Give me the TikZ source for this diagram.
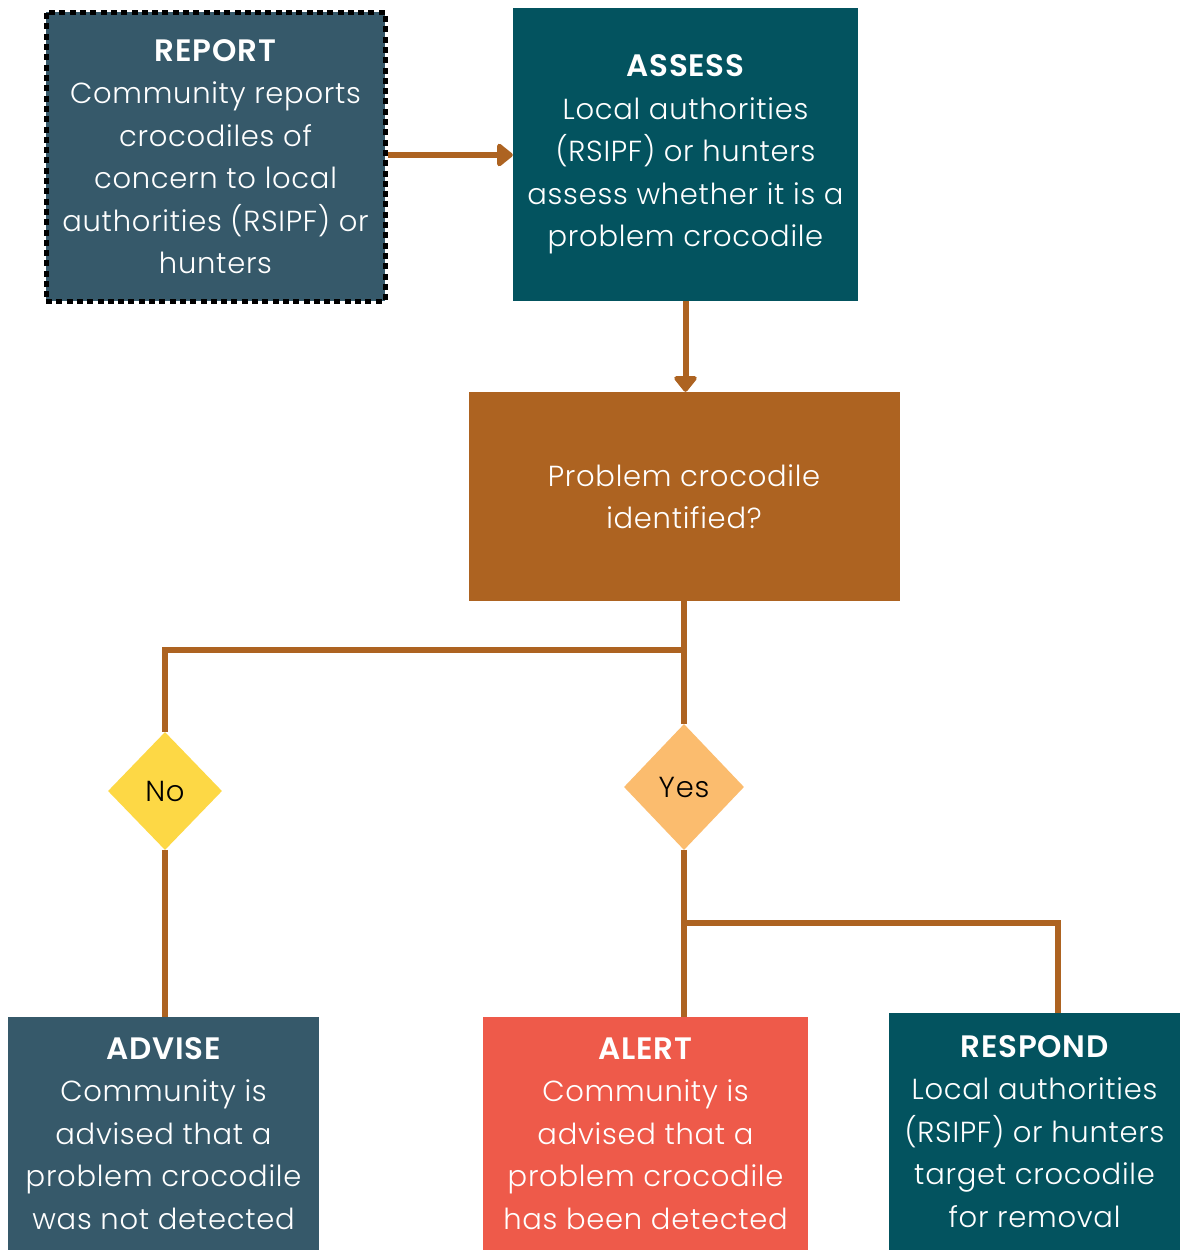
\documentclass[tikz,border=0pt]{standalone}
\usepackage{fontspec}
\setmainfont{Poppins}[UprightFont={* Light}, BoldFont={* SemiBold}, LetterSpace=2.5]
\usetikzlibrary{shapes.geometric,arrows.meta}
\definecolor{slate}{HTML}{36596A}
\definecolor{teal}{HTML}{03535F}
\definecolor{brown}{HTML}{AD6321}
\definecolor{coral}{HTML}{EE5A4A}
\definecolor{noyel}{HTML}{FDD845}
\definecolor{yesor}{HTML}{FBBC6E}
\tikzset{
  box/.style={rectangle, inner sep=0pt, text=white, align=center,
    font=\fontsize{29}{42.5}\selectfont},
  hd/.style={font=\fontsize{31}{42.5}\selectfont\bfseries},
  dia/.style={diamond, inner sep=0pt, text=black, font=\fontsize{29}{34}\selectfont},
  conn/.style={draw=brown, line width=6pt},
  arr/.style={conn, -{Triangle[width=26pt,length=17pt,round]}},
}
\newcommand{\hdr}[1]{{\fontsize{31}{42.5}\selectfont\bfseries #1}}
\begin{document}
\begin{tikzpicture}[x=1pt,y=-1pt]
\useasboundingbox (0,0) rectangle (1180,1250);
\fill[white] (0,0) rectangle (1180,1250);
% boxes
\node[box, fill=slate, minimum width=339pt, minimum height=289pt,
  draw=black, line width=5pt, dash pattern=on 6pt off 4.3pt] (report) at (215.5,156.5)
  {\hdr{REPORT}\\Community reports\\crocodiles of\\concern to local\\authorities (RSIPF) or\\hunters};
\node[box, fill=teal, minimum width=345pt, minimum height=293pt] (assess) at (685.5,154.5)
  {\hdr{ASSESS}\\Local authorities\\(RSIPF) or hunters\\assess whether it is a\\problem crocodile};
\node[box, fill=brown, minimum width=431pt, minimum height=209pt] (problem) at (684,496.5)
  {Problem crocodile\\identified?};
\node[dia, fill=noyel, minimum width=114pt, minimum height=118pt] (no) at (165,791) {No};
\node[dia, fill=yesor, minimum width=120pt, minimum height=126pt] (yes) at (684,787) {Yes};
\node[box, fill=slate, minimum width=311pt, minimum height=233pt] (advise) at (163.5,1133.5)
  {\hdr{ADVISE}\\Community is\\advised that a\\problem crocodile\\was not detected};
\node[box, fill=coral, minimum width=325pt, minimum height=233pt] (alert) at (645.5,1133.5)
  {\hdr{ALERT}\\Community is\\advised that a\\problem crocodile\\has been detected};
\node[box, fill=teal, minimum width=291pt, minimum height=237pt] (respond) at (1034.5,1131.5)
  {\hdr{RESPOND}\\Local authorities\\(RSIPF) or hunters\\target crocodile\\for removal};
% connectors
\draw[arr] (report.east |- 0,155) -- (assess.west |- 0,155);
\draw[arr] (assess.south) -- (assess.south |- problem.north);
\coordinate (split1) at (684,650);
\coordinate (split2) at (684,923);
\coordinate (rtop) at (1058,1013);
\draw[conn] (problem.south) -- (split1) -| (no.north);
\draw[conn] (split1) -- (yes.north);
\draw[conn] (no.south) -- (no.south |- advise.north);
\draw[conn] (yes.south) -- (yes.south |- alert.north);
\draw[conn, line join=miter] (split2) -| (rtop);
\end{tikzpicture}
\end{document}
